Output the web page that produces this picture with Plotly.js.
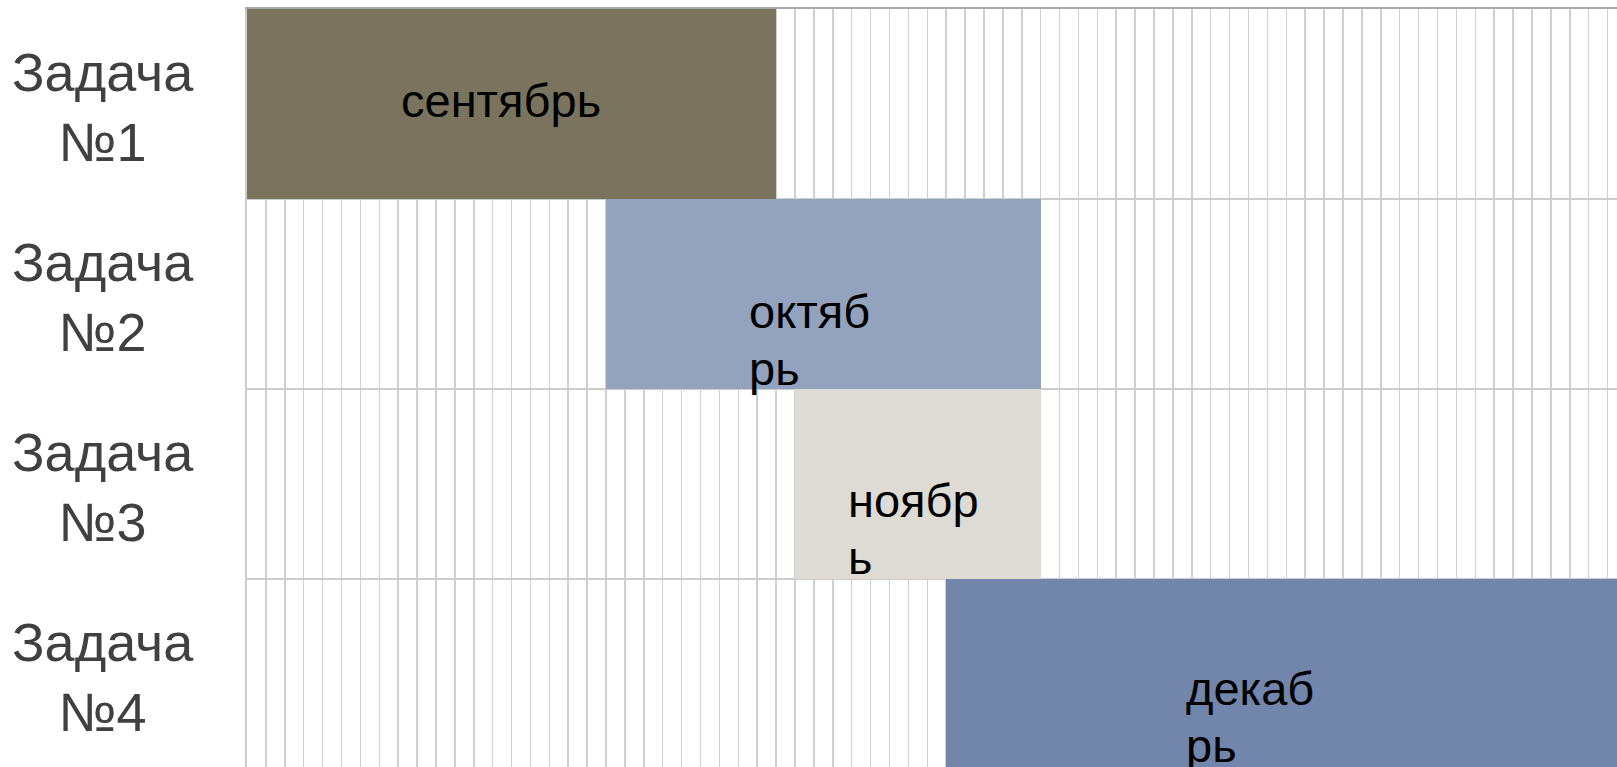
<!DOCTYPE html>
<html>
<head>
<meta charset="utf-8">
<script src="https://cdn.plot.ly/plotly-3.0.1.min.js"></script>
<style>html,body{margin:0;padding:0;background:#fff;overflow:hidden}#chart{width:1617px;height:767px}</style>
</head>
<body>
<div id="chart"></div>
<script>
// ---- data ----
const tasks = ['Задача №1', 'Задача №2', 'Задача №3', 'Задача №4'];
const months = ['сентябрь', 'октябрь', 'ноябрь', 'декабрь'];
const startUnit = [0, 19, 29, 37];
const endUnit = [28, 42, 42, 74];
// how each month label is broken into lines in the picture
const labelLines = [['сентябрь'], ['октяб', 'рь'], ['ноябр', 'ь'], ['декаб', 'рь']];

// ---- styles ----
const barColors = ['#7a735e', '#93a3bd', '#dddbd4', '#7285ab'];
const labelShiftX = [152, 141, 51, 238];
const labelShiftY = [4, -17, -16, -14];
const lineGap = 57;

const rowIdx = tasks.map((_, i) => i);

const trace = {
  type: 'bar',
  orientation: 'h',
  y: rowIdx,
  base: startUnit,
  x: endUnit.map((e, i) => e - startUnit[i]),
  width: 1,
  marker: {color: barColors, line: {width: 0}},
  hoverinfo: 'skip',
  textposition: 'none'
};

const annotations = [];
tasks.forEach((t, i) => {
  annotations.push({
    xref: 'paper', yref: 'y', x: 0, y: i,
    xanchor: 'center', yanchor: 'middle',
    xshift: -144, yshift: -3,
    text: t.replace(' ', '<br>'),
    align: 'center', showarrow: false,
    font: {family: 'Liberation Sans, Arial, sans-serif', size: 54, color: '#404040'}
  });
});
labelLines.forEach((lines, i) => {
  lines.forEach((ln, k) => {
    annotations.push({
      xref: 'x', yref: 'y', x: startUnit[i], y: i,
      xanchor: 'left', yanchor: 'middle',
      xshift: labelShiftX[i], yshift: labelShiftY[i] - k * lineGap,
      text: ln, align: 'left', showarrow: false,
      font: {family: 'Liberation Sans, Arial, sans-serif', size: 47, color: '#000000'}
    });
  });
});

const layout = {
  width: 1617, height: 767,
  margin: {l: 247, r: 0, t: 9, b: 0, pad: 0},
  paper_bgcolor: '#ffffff', plot_bgcolor: '#ffffff',
  showlegend: false,
  bargap: 0,
  xaxis: {
    range: [0, 72.5], tick0: 0, dtick: 1, side: 'top',
    showgrid: true, gridcolor: '#d0d0d0', gridwidth: 1.5,
    showticklabels: false, ticks: '', zeroline: false,
    showline: true, linecolor: '#a8a8a8', linewidth: 2
  },
  yaxis: {
    range: [3.489, -0.5], tickmode: 'array', tickvals: [0.5, 1.5, 2.5],
    showgrid: true, gridcolor: '#cccccc', gridwidth: 1.5,
    showticklabels: false, ticks: '', zeroline: false,
    showline: true, linecolor: '#cccccc', linewidth: 2
  },
  annotations: annotations
};

Plotly.newPlot('chart', [trace], layout, {staticPlot: true, displayModeBar: false});
</script>
</body>
</html>
